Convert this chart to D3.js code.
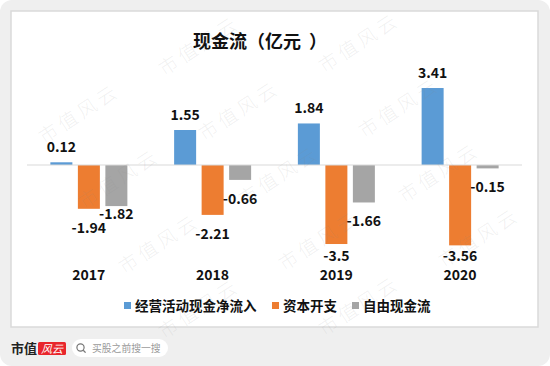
<!DOCTYPE html>
<html>
<head>
<meta charset="utf-8">
<script src="https://cdn.jsdelivr.net/npm/d3@7"></script>
<style>
  html, body { margin: 0; padding: 0; background: #ffffff; }
  svg { display: block; }
  text { font-family: "Noto Sans CJK SC", "Noto Sans", sans-serif; }
</style>
</head>
<body>
<svg id="chart" width="550" height="366"></svg>
<script>
// ---- data ----
const years = ["2017", "2018", "2019", "2020"];
const seriesNames = ["经营活动现金净流入", "资本开支", "自由现金流"];
const operatingCashFlow = [0.12, 1.55, 1.84, 3.41];
const capitalExpenditure = [-1.94, -2.21, -3.5, -3.56];
const freeCashFlow = [-1.82, -0.66, -1.66, -0.15];
const seriesColors = ["#5b9bd5", "#ed7d31", "#a5a5a5"];
const titleParts = ["现金流", "（", "亿元", "）"];

const seriesValues = [operatingCashFlow, capitalExpenditure, freeCashFlow];

const W = 550, H = 366;
const svg = d3.select("#chart");

// outer rounded gray card
svg.append("rect").attr("x", 0).attr("y", 0).attr("width", W).attr("height", H)
  .attr("rx", 12).attr("fill", "#efefef");
// inner white panel
svg.append("rect").attr("x", 11).attr("y", 11).attr("width", 527).attr("height", 316)
  .attr("fill", "#ffffff").attr("stroke", "#dadada").attr("stroke-width", 1.5);

// title (spaced like the reference)
const title = svg.append("text").attr("y", 48)
  .attr("font-size", 18).attr("font-weight", "bold").attr("fill", "#111");
const titleX = [193, 247, 265, 309];
titleParts.forEach((t, i) => title.append("tspan").attr("x", titleX[i]).text(t));

// scales
const x0 = d3.scaleBand().domain(years).range([27, 522]).paddingInner(0).paddingOuter(0);
const x1 = d3.scaleBand().domain(seriesNames).range([0, x0.bandwidth()])
  .paddingInner(0.2).paddingOuter(0.85);
const y = d3.scaleLinear().domain([-4, 4]).range([255.3, 74.7]);

// bars
const rows = [];
years.forEach((yr, i) => {
  seriesNames.forEach((s, k) => {
    rows.push({ year: yr, series: s, k: k, value: seriesValues[k][i] });
  });
});

const gBars = svg.append("g");
gBars.selectAll("rect").data(rows).join("rect")
  .attr("x", d => x0(d.year) + x1(d.series))
  .attr("width", x1.bandwidth())
  .attr("y", d => Math.min(y(d.value), y(0)))
  .attr("height", d => Math.abs(y(d.value) - y(0)))
  .attr("fill", d => seriesColors[d.k]);

// zero axis line
svg.append("line").attr("x1", 27).attr("x2", 522).attr("y1", y(0)).attr("y2", y(0))
  .attr("stroke", "#d9d9d9").attr("stroke-width", 1);

// data labels with simple collision handling
const labels = rows.map(d => {
  const cx = x0(d.year) + x1(d.series) + x1.bandwidth() / 2;
  let cy = d.value >= 0 ? y(d.value) - 15.5 : y(d.value) + 19;
  if (d.value < 0) cy = Math.min(cy, 255.5);
  return { ...d, cx, cy, w: String(d.value).length * 7.6 };
});
years.forEach(yr => {
  const orange = labels.find(l => l.year === yr && l.k === 1);
  const gray = labels.find(l => l.year === yr && l.k === 2);
  const xOverlap = Math.abs(orange.cx - gray.cx) < (orange.w + gray.w) / 2;
  if (xOverlap && Math.abs(orange.cy - gray.cy) < 13.5) gray.cy = orange.cy - 13.5;
});
svg.append("g").selectAll("text").data(labels).join("text")
  .attr("x", d => d.cx).attr("y", d => d.cy + 5)
  .attr("text-anchor", "middle").attr("font-size", 14).attr("font-weight", "bold")
  .attr("fill", "#111")
  .text(d => String(d.value));

// category axis labels
svg.append("g").selectAll("text").data(years).join("text")
  .attr("x", d => x0(d) + x0.bandwidth() / 2).attr("y", 280)
  .attr("text-anchor", "middle").attr("font-size", 14).attr("font-weight", "bold")
  .attr("fill", "#111").text(d => d);

// legend
const legendX = [124, 272, 352];
const lg = svg.append("g").selectAll("g").data(seriesNames).join("g")
  .attr("transform", (d, i) => `translate(${legendX[i]},302)`);
lg.append("rect").attr("width", 7).attr("height", 7).attr("fill", (d, i) => seriesColors[i]);
lg.append("text").attr("x", 11).attr("y", 8.5).attr("font-size", 13.5)
  .attr("font-weight", "bold").attr("fill", "#111").text(d => d);

// footer logo and search pill
svg.append("text").attr("x", 11).attr("y", 353).attr("font-size", 13)
  .attr("font-weight", "bold").attr("fill", "#222")
  .attr("font-family", "\"Noto Serif CJK SC\", \"Noto Sans CJK SC\", serif").text("市值");
svg.append("rect").attr("x", 38).attr("y", 342).attr("width", 28).attr("height", 13)
  .attr("rx", 1.5).attr("fill", "#e8262c");
svg.append("text").attr("x", 52).attr("y", 353).attr("text-anchor", "middle")
  .attr("font-size", 11).attr("font-style", "italic").attr("fill", "#fff").text("风云");
svg.append("rect").attr("x", 72).attr("y", 339).attr("width", 96).attr("height", 18)
  .attr("rx", 9).attr("fill", "#ffffff");
svg.append("circle").attr("cx", 80.5).attr("cy", 347.5).attr("r", 3.6)
  .attr("fill", "none").attr("stroke", "#777").attr("stroke-width", 1.2);
svg.append("line").attr("x1", 83.2).attr("y1", 350.2).attr("x2", 85.6).attr("y2", 352.6)
  .attr("stroke", "#777").attr("stroke-width", 1.3);
svg.append("text").attr("x", 92).attr("y", 351.5).attr("font-size", 9.8)
  .attr("fill", "#9a9a9a").text("买股之前搜一搜");

// watermark lattice, kept fully inside the picture
const wmTop = svg.append("g").attr("pointer-events", "none");
for (let j = -2; j < 8; j++) {
  for (let i = -2; i < 5; i++) {
    const px = 40 + i * 160 + j * 40;
    const py = 50 - i * 3 + j * 65;
    if (px < 42 || px > 508 || py < 32 || py > 336) continue;
    wmTop.append("text").attr("x", px).attr("y", py)
      .attr("transform", `rotate(-33,${px},${py})`)
      .attr("text-anchor", "middle").attr("dominant-baseline", "middle")
      .attr("font-size", 19).attr("letter-spacing", 4).attr("font-weight", 300)
      .attr("fill", "#888").attr("fill-opacity", 0.12)
      .text("市值风云");
  }
}
</script>
</body>
</html>
